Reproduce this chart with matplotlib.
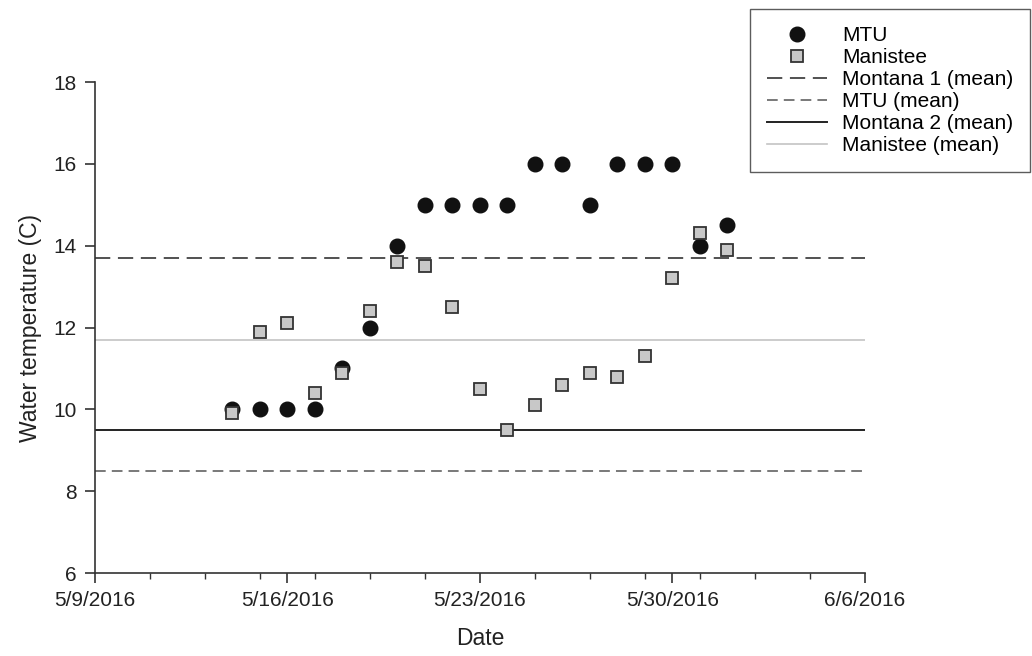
import matplotlib.pyplot as plt
import matplotlib.dates as mdates
import numpy as np
import datetime as dt

plt.rcParams['font.family'] = ['Liberation Sans', 'DejaVu Sans']

dates = [dt.date(2016, 5, 14) + dt.timedelta(days=i) for i in range(19)]
mtu = [10, 10, 10, 10, 11, 12, 14, 15, 15, 15, 15, 16, 16, 15, 16, 16, 16, 14, 14.5]
manistee = [9.9, 11.9, 12.1, 10.4, 10.9, 12.4, 13.6, 13.5, 12.5, 10.5, 9.5, 10.1,
            10.6, 10.9, 10.8, 11.3, 13.2, 14.3, 13.9]

montana1_mean = 13.7
mtu_mean = 8.5
montana2_mean = 9.5
manistee_mean = 11.7

fig = plt.figure(figsize=(10.32, 6.56), dpi=100)
ax = fig.add_axes([0.092, 0.1265, 0.746, 0.7485])

ax.axhline(montana1_mean, color='#222222', lw=1.1, dashes=(10, 5), label='Montana 1 (mean)')
ax.axhline(mtu_mean, color='#555555', lw=1.1, dashes=(7, 4), label='MTU (mean)')
ax.axhline(montana2_mean, color='#222222', lw=1.4, label='Montana 2 (mean)')
ax.axhline(manistee_mean, color='#c4c4c4', lw=1.2, label='Manistee (mean)')

ax.plot(dates, mtu, 'o', color='#111111', ms=10.5, label='MTU', zorder=3)
ax.plot(dates, manistee, 's', mfc='#c8c8c8', mec='#333333', mew=1.3, ms=8.5,
        label='Manistee', zorder=4)

ax.set_xlim(dt.date(2016, 5, 9), dt.date(2016, 6, 6))
ax.set_ylim(6, 18)
ax.set_yticks(np.arange(6, 19, 2))
ax.xaxis.set_major_locator(mdates.DayLocator(bymonthday=[9, 16, 23, 30, 6]))
ax.xaxis.set_minor_locator(mdates.DayLocator(interval=2))
ax.xaxis.set_major_formatter(mdates.DateFormatter('%-m/%-d/%Y'))

for s in ['top', 'right']:
    ax.spines[s].set_visible(False)
for s in ['left', 'bottom']:
    ax.spines[s].set_color('#333333')
    ax.spines[s].set_linewidth(1.2)
ax.tick_params(which='major', length=7, width=1.2, color='#333333', labelsize=15,
               labelcolor='#222222', pad=6)
ax.tick_params(which='minor', length=4, width=1.0, color='#333333')

ax.set_xlabel('Date', fontsize=16.5, color='#222222', labelpad=12)
ax.set_ylabel('Water temperature (C)', fontsize=16.5, color='#222222', labelpad=8)

handles, labels = ax.get_legend_handles_labels()
order = [4, 5, 0, 1, 2, 3]
leg = fig.legend([handles[i] for i in order], [labels[i] for i in order],
                 loc='upper right', bbox_to_anchor=(0.998, 0.986), fontsize=15,
                 frameon=True, fancybox=False, edgecolor='#333333',
                 borderpad=0.8, labelspacing=0.15, handlelength=2.9,
                 handletextpad=0.7, borderaxespad=0)
leg.get_frame().set_linewidth(1.0)

plt.savefig('out.png', dpi=100)
